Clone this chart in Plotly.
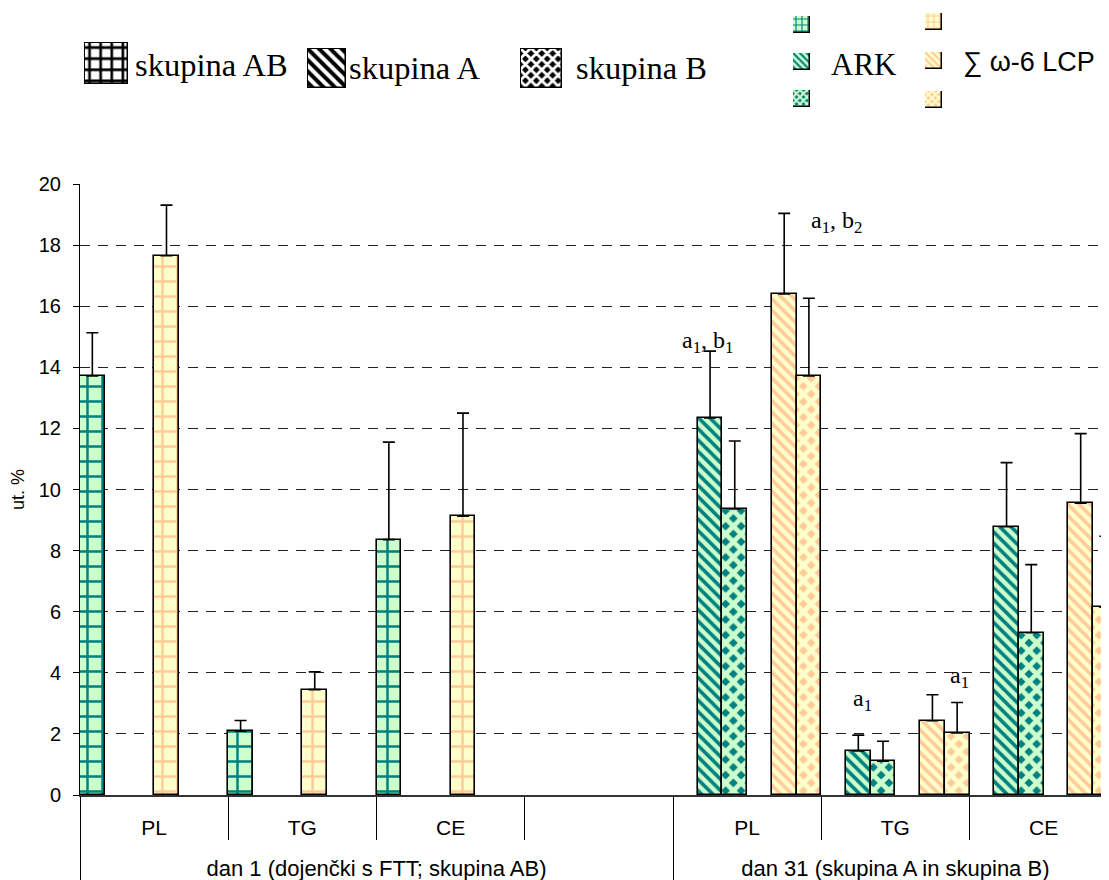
import plotly.graph_objects as go

# ---------------- data ----------------
groups = ["dan 1 (dojenčki s FTT; skupina AB)", "dan 31 (skupina A in skupina B)"]
categories = ["PL", "TG", "CE", " ", "PL", "TG", "CE"]
category_group = [0, 0, 0, 0, 1, 1, 1]

ark_ab = [13.72, 2.09, 8.36, None, None, None, None]
ark_ab_err = [1.41, 0.35, 3.19, None, None, None, None]
ark_a = [None, None, None, None, 12.34, 1.44, 8.78]
ark_a_err = [None, None, None, None, 2.19, 0.52, 2.10]
ark_b = [None, None, None, None, 9.36, 1.11, 5.31]
ark_b_err = [None, None, None, None, 2.23, 0.65, 2.23]
w6_ab = [17.65, 3.45, 9.13, None, None, None, None]
w6_ab_err = [1.66, 0.58, 3.37, None, None, None, None]
w6_a = [None, None, None, None, 16.40, 2.43, 9.55]
w6_a_err = [None, None, None, None, 2.64, 0.85, 2.28]
w6_b = [None, None, None, None, 13.72, 2.03, 6.15]
w6_b_err = [None, None, None, None, 2.54, 1.00, 2.32]

y_ticks = list(range(0, 21, 2))

# ---------------- styles ----------------
GREEN_BG, GREEN_FG = "#CCFFCC", "#008080"
YEL_BG, YEL_FG = "#FFFFCC", "#FFCC99"
SERIF = "Liberation Serif"
SANS = "Liberation Sans"

PAT = {
    "grid": dict(shape="+", size=15, solidity=0.3),
    "diag": dict(shape="\\", size=8, solidity=0.45),
    "diam": dict(shape="x", size=11, solidity=0.68),
}


def pattern(kind, bg, fg, scale=1.0, solidity=None):
    p = PAT[kind]
    inverted = kind == "diam"
    return dict(shape=p["shape"], size=p["size"] * scale,
                solidity=p["solidity"] if solidity is None else solidity,
                bgcolor=fg if inverted else bg, fgcolor=bg if inverted else fg,
                fillmode="replace")


series = [
    ("ARK skupina AB", ark_ab, ark_ab_err, "grid", GREEN_BG, GREEN_FG),
    ("ARK skupina A", ark_a, ark_a_err, "diag", GREEN_BG, GREEN_FG),
    ("ARK skupina B", ark_b, ark_b_err, "diam", GREEN_BG, GREEN_FG),
    ("ω-6 skupina AB", w6_ab, w6_ab_err, "grid", YEL_BG, YEL_FG),
    ("ω-6 skupina A", w6_a, w6_a_err, "diag", YEL_BG, YEL_FG),
    ("ω-6 skupina B", w6_b, w6_b_err, "diam", YEL_BG, YEL_FG),
]

x = list(range(len(categories)))
group_centers = []
group_bounds = []
for g in range(len(groups)):
    idx = [i for i in x if category_group[i] == g]
    group_centers.append(sum(idx) / len(idx))
    group_bounds.append(idx[0] - 0.5)
inner_bounds = [i + 0.5 for i in x[:-1] if category_group[i] == category_group[i + 1]]

fig = go.Figure()
for name, vals, errs, kind, bg, fg in series:
    fig.add_trace(go.Bar(
        x=x, y=vals, name=name,
        marker=dict(color=bg, pattern=pattern(kind, bg, fg),
                    line=dict(color="black", width=1.6)),
        error_y=dict(type="data", symmetric=False, array=errs,
                     arrayminus=[0 if e is not None else None for e in errs],
                     color="black", thickness=1.6, width=6),
        hoverinfo="x+y",
    ))

# ---------------- geometry (page pixels; body margin of 8px compensated) ----------------
OFF = 8
W, H = 1109 - OFF, 880 - OFF
ML, MR, MT = 80 - OFF, 0, 0
MB = H - (795 - OFF)
PW, PH = W - ML - MR, H - MT - MB
PLOT_TOP = 184  # page y of value 20


def px_x(p):
    return (p - OFF - ML) / PW


def px_y(p):
    return (H - MB - (p - OFF)) / PH


layout = dict(
    width=W, height=H, margin=dict(l=ML, r=MR, t=MT, b=MB, autoexpand=False),
    template="none", barmode="group", bargap=0, bargroupgap=0,
    showlegend=False, plot_bgcolor="white", paper_bgcolor="white",
    font=dict(family=SANS, size=20, color="black"),
    yaxis=dict(domain=[0, px_y(PLOT_TOP)], range=[0, 20], tickvals=y_ticks,
               ticks="outside", ticklen=6, tickcolor="black", tickwidth=1,
               showline=True, linecolor="black", linewidth=1,
               showgrid=True, gridcolor="#222222", gridwidth=1, griddash="10px,8px",
               zeroline=False, ticklabelstandoff=8, tickfont=dict(size=20),
               title=dict(text="ut. %", font=dict(size=18), standoff=10)),
    xaxis=dict(type="linear", range=[-0.5, 6.441], tickmode="array", tickvals=x,
               ticktext=categories, ticks="", showline=True, linecolor="#333333",
               linewidth=1.5, showgrid=False, zeroline=False, ticklabelstandoff=13,
               tickfont=dict(size=21),
               minor=dict(tickmode="array", tickvals=inner_bounds, ticks="outside",
                          ticklen=43, tickcolor="black", tickwidth=1, showgrid=False)),
    xaxis2=dict(overlaying="x", anchor="y", side="bottom", type="linear",
                range=[-0.5, 6.441], tickmode="array", tickvals=group_centers,
                ticktext=groups, ticks="", showline=False, showgrid=False,
                zeroline=False, ticklabelstandoff=58, tickfont=dict(size=22),
                minor=dict(tickmode="array", tickvals=group_bounds, ticks="outside",
                           ticklen=85, tickcolor="black", tickwidth=1, showgrid=False)),
)

# invisible trace on xaxis2 so the overlay axis is drawn
fig.add_trace(go.Scatter(x=[group_centers[0]], y=[0], xaxis="x2", yaxis="y",
                         mode="markers", marker=dict(opacity=0), hoverinfo="skip",
                         showlegend=False))

# ---------------- legend swatches ----------------
swatches = [
    # (page px x0, x1, y0, y1, kind, bg, fg, scale, solidity, border)
    (84, 128, 42, 84, "grid", "white", "black", 0.74, 0.42, 2.5),
    (307, 346, 48, 88, "diag", "white", "black", 1.0, 0.5, 2.5),
    (520, 562, 48, 88, "diam", "white", "black", 0.7, 0.6, 2.5),
    (793, 810, 16, 33, "grid", GREEN_BG, GREEN_FG, 0.4, 0.35, 1.5),
    (793, 810, 53, 70, "diag", GREEN_BG, GREEN_FG, 0.6, 0.45, 1.5),
    (793, 810, 90, 107, "diam", GREEN_BG, GREEN_FG, 0.45, 0.65, 1.5),
    (925, 942, 13, 30, "grid", YEL_BG, YEL_FG, 0.4, 0.35, 1.5),
    (925, 942, 52, 69, "diag", YEL_BG, YEL_FG, 0.6, 0.45, 1.5),
    (925, 942, 91, 108, "diam", YEL_BG, YEL_FG, 0.45, 0.65, 1.5),
]
for k, (x0, x1, y0, y1, kind, bg, fg, sc, sol, bw) in enumerate(swatches):
    ax = k + 3
    fig.add_trace(go.Bar(x=[0], y=[1], width=[1], xaxis=f"x{ax}", yaxis=f"y{ax}",
                         marker=dict(color=bg, pattern=pattern(kind, bg, fg, sc, sol),
                                     line=dict(color="black", width=bw)),
                         hoverinfo="skip", showlegend=False))
    layout[f"xaxis{ax}"] = dict(domain=[px_x(x0), px_x(x1)], range=[-0.5, 0.5],
                                anchor=f"y{ax}", visible=False, fixedrange=True)
    layout[f"yaxis{ax}"] = dict(domain=[px_y(y1), px_y(y0)], range=[0, 1],
                                anchor=f"x{ax}", visible=False, fixedrange=True)

legend_texts = [
    ("skupina AB", 133, 65, SERIF, 32.5),
    ("skupina A", 347, 68, SERIF, 32.5),
    ("skupina B", 574, 68, SERIF, 32.5),
    ("ARK", 829, 64, SERIF, 31),
    ("∑ ω-6 LCP", 961, 62, SANS, 27),
]
annotations = []
for txt, px, py, fam, sz in legend_texts:
    annotations.append(dict(text=txt, x=px_x(px), y=px_y(py), xref="paper", yref="paper",
                            xanchor="left", yanchor="middle", showarrow=False,
                            font=dict(family=fam, size=sz, color="black")))

# significance labels (data coordinates)
sig_labels = [
    ("a<sub>1</sub>, b<sub>1</sub>", 3.735, 14.83),
    ("a<sub>1</sub>, b<sub>2</sub>", 4.60, 18.76),
    ("a<sub>1</sub>", 4.78, 3.11),
    ("a<sub>1</sub>", 5.43, 3.86),
]
for txt, xv, yv in sig_labels:
    annotations.append(dict(text=txt, x=xv, y=yv, xref="x", yref="y", showarrow=False,
                            xanchor="center", yanchor="middle",
                            font=dict(family=SERIF, size=24, color="black")))

layout["annotations"] = annotations
fig.update_layout(**layout)
fig.write_html("out.html")
